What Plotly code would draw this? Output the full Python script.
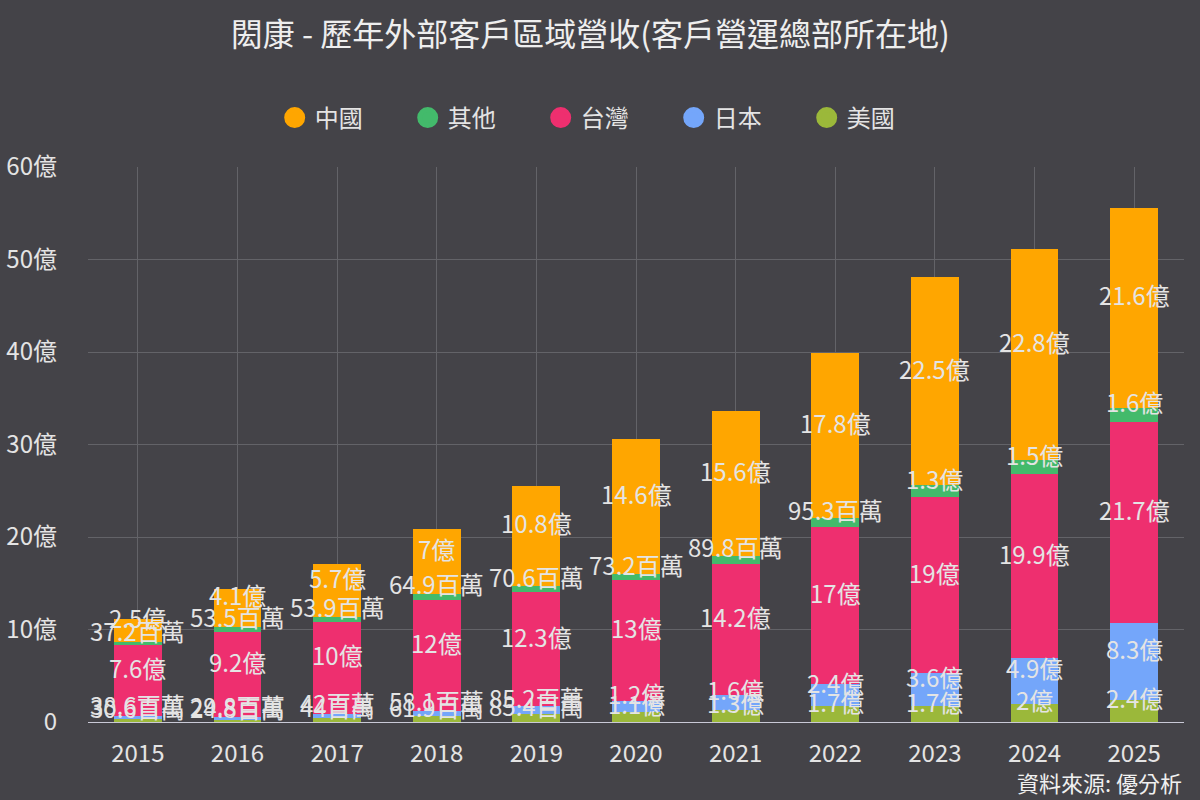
import plotly.graph_objects as go

years = ["2015", "2016", "2017", "2018", "2019", "2020", "2021", "2022", "2023", "2024", "2025"]
# values in 億 (100 million TWD)
us_rev = [0.306, 0.248, 0.44, 0.619, 0.854, 1.1, 1.3, 1.7, 1.7, 2.0, 2.4]
jp_rev = [0.386, 0.298, 0.42, 0.581, 0.852, 1.2, 1.6, 2.4, 3.6, 4.9, 8.3]
tw_rev = [7.6, 9.2, 10, 12, 12.3, 13, 14.2, 17, 19, 19.9, 21.7]
other_rev = [0.372, 0.535, 0.539, 0.649, 0.706, 0.732, 0.898, 0.953, 1.3, 1.5, 1.6]
cn_rev = [2.5, 4.1, 5.7, 7, 10.8, 14.6, 15.6, 17.8, 22.5, 22.8, 21.6]

y_ticks = [0, 10, 20, 30, 40, 50, 60]
y_tick_text = ["0", "10億", "20億", "30億", "40億", "50億", "60億"]

# stacking order bottom -> top
series = [
    ("美國", us_rev, "#9BB83A"),
    ("日本", jp_rev, "#74A6FA"),
    ("台灣", tw_rev, "#EE2F6F"),
    ("其他", other_rev, "#43BA6B"),
    ("中國", cn_rev, "#FFA600"),
]

FONT = "Noto Sans CJK TC, Noto Sans, sans-serif"
TXT = "#E4E4E4"
BG = "#444348"


def fmt(v):
    if v >= 1:
        return f"{round(v, 1):g}億"
    return f"{round(v * 100, 1):g}百萬"


fig = go.Figure()
for name, vals, col in series:
    fig.add_trace(go.Bar(x=years, y=vals, name=name, marker_color=col,
                         marker_line_width=0, width=0.48, showlegend=False,
                         hoverinfo="x+y+name"))

# legend entries (circles), listed top-of-stack first
for name, vals, col in reversed(series):
    fig.add_trace(go.Scatter(x=[None], y=[None], mode="markers", name=name,
                             marker=dict(symbol="circle", size=16, color=col,
                                         line=dict(color=col, width=5))))

annotations = []
base = [0.0] * len(years)
for name, vals, col in series:
    for i, v in enumerate(vals):
        # category axis: position by category index
        annotations.append(dict(x=i, y=base[i] + v / 2, text=fmt(v),
                                xref="x", yref="y",
                                showarrow=False, yshift=13,
                                font=dict(size=24, color=TXT, family=FONT)))
        base[i] += v

annotations.append(dict(xref="paper", yref="paper", x=1.0, y=-0.108,
                        xanchor="right", yanchor="middle", showarrow=False,
                        text="資料來源: 優分析",
                        font=dict(size=22, color="#F0F0F0", family=FONT)))

fig.update_layout(
    width=1200, height=800,
    barmode="stack",
    paper_bgcolor=BG, plot_bgcolor=BG,
    margin=dict(l=88, r=16, t=167, b=78, autoexpand=False),
    font=dict(family=FONT, color=TXT, size=24),
    title=dict(text="閎康 - 歷年外部客戶區域營收(客戶營運總部所在地)",
               x=0.492, xref="container", xanchor="center",
               y=1 - 35 / 800, yref="container", yanchor="middle",
               font=dict(size=32, color="#EEEEEE", family=FONT)),
    legend=dict(orientation="h", xref="container", yref="container",
                traceorder="normal",
                x=0.506, xanchor="center", y=1 - 118 / 800, yanchor="middle",
                entrywidth=88, font=dict(size=24, color=TXT, family=FONT),
                bgcolor="rgba(0,0,0,0)"),
    annotations=annotations,
    xaxis=dict(type="category", showgrid=True, gridcolor="#636368", gridwidth=1,
               showline=True, linecolor="#C9C9D6", linewidth=1,
               tickfont=dict(size=24, color=TXT), ticks="",
               ticklabelstandoff=10, automargin=False,
               range=[-0.5, 10.5]),
    yaxis=dict(range=[0, 60], tickvals=y_ticks, ticktext=y_tick_text,
               showgrid=True, gridcolor="#636368", gridwidth=1,
               zeroline=False, ticks="", ticklabelstandoff=30, automargin=False,
               tickfont=dict(size=24, color=TXT)),
)

fig.write_html("out.html")
